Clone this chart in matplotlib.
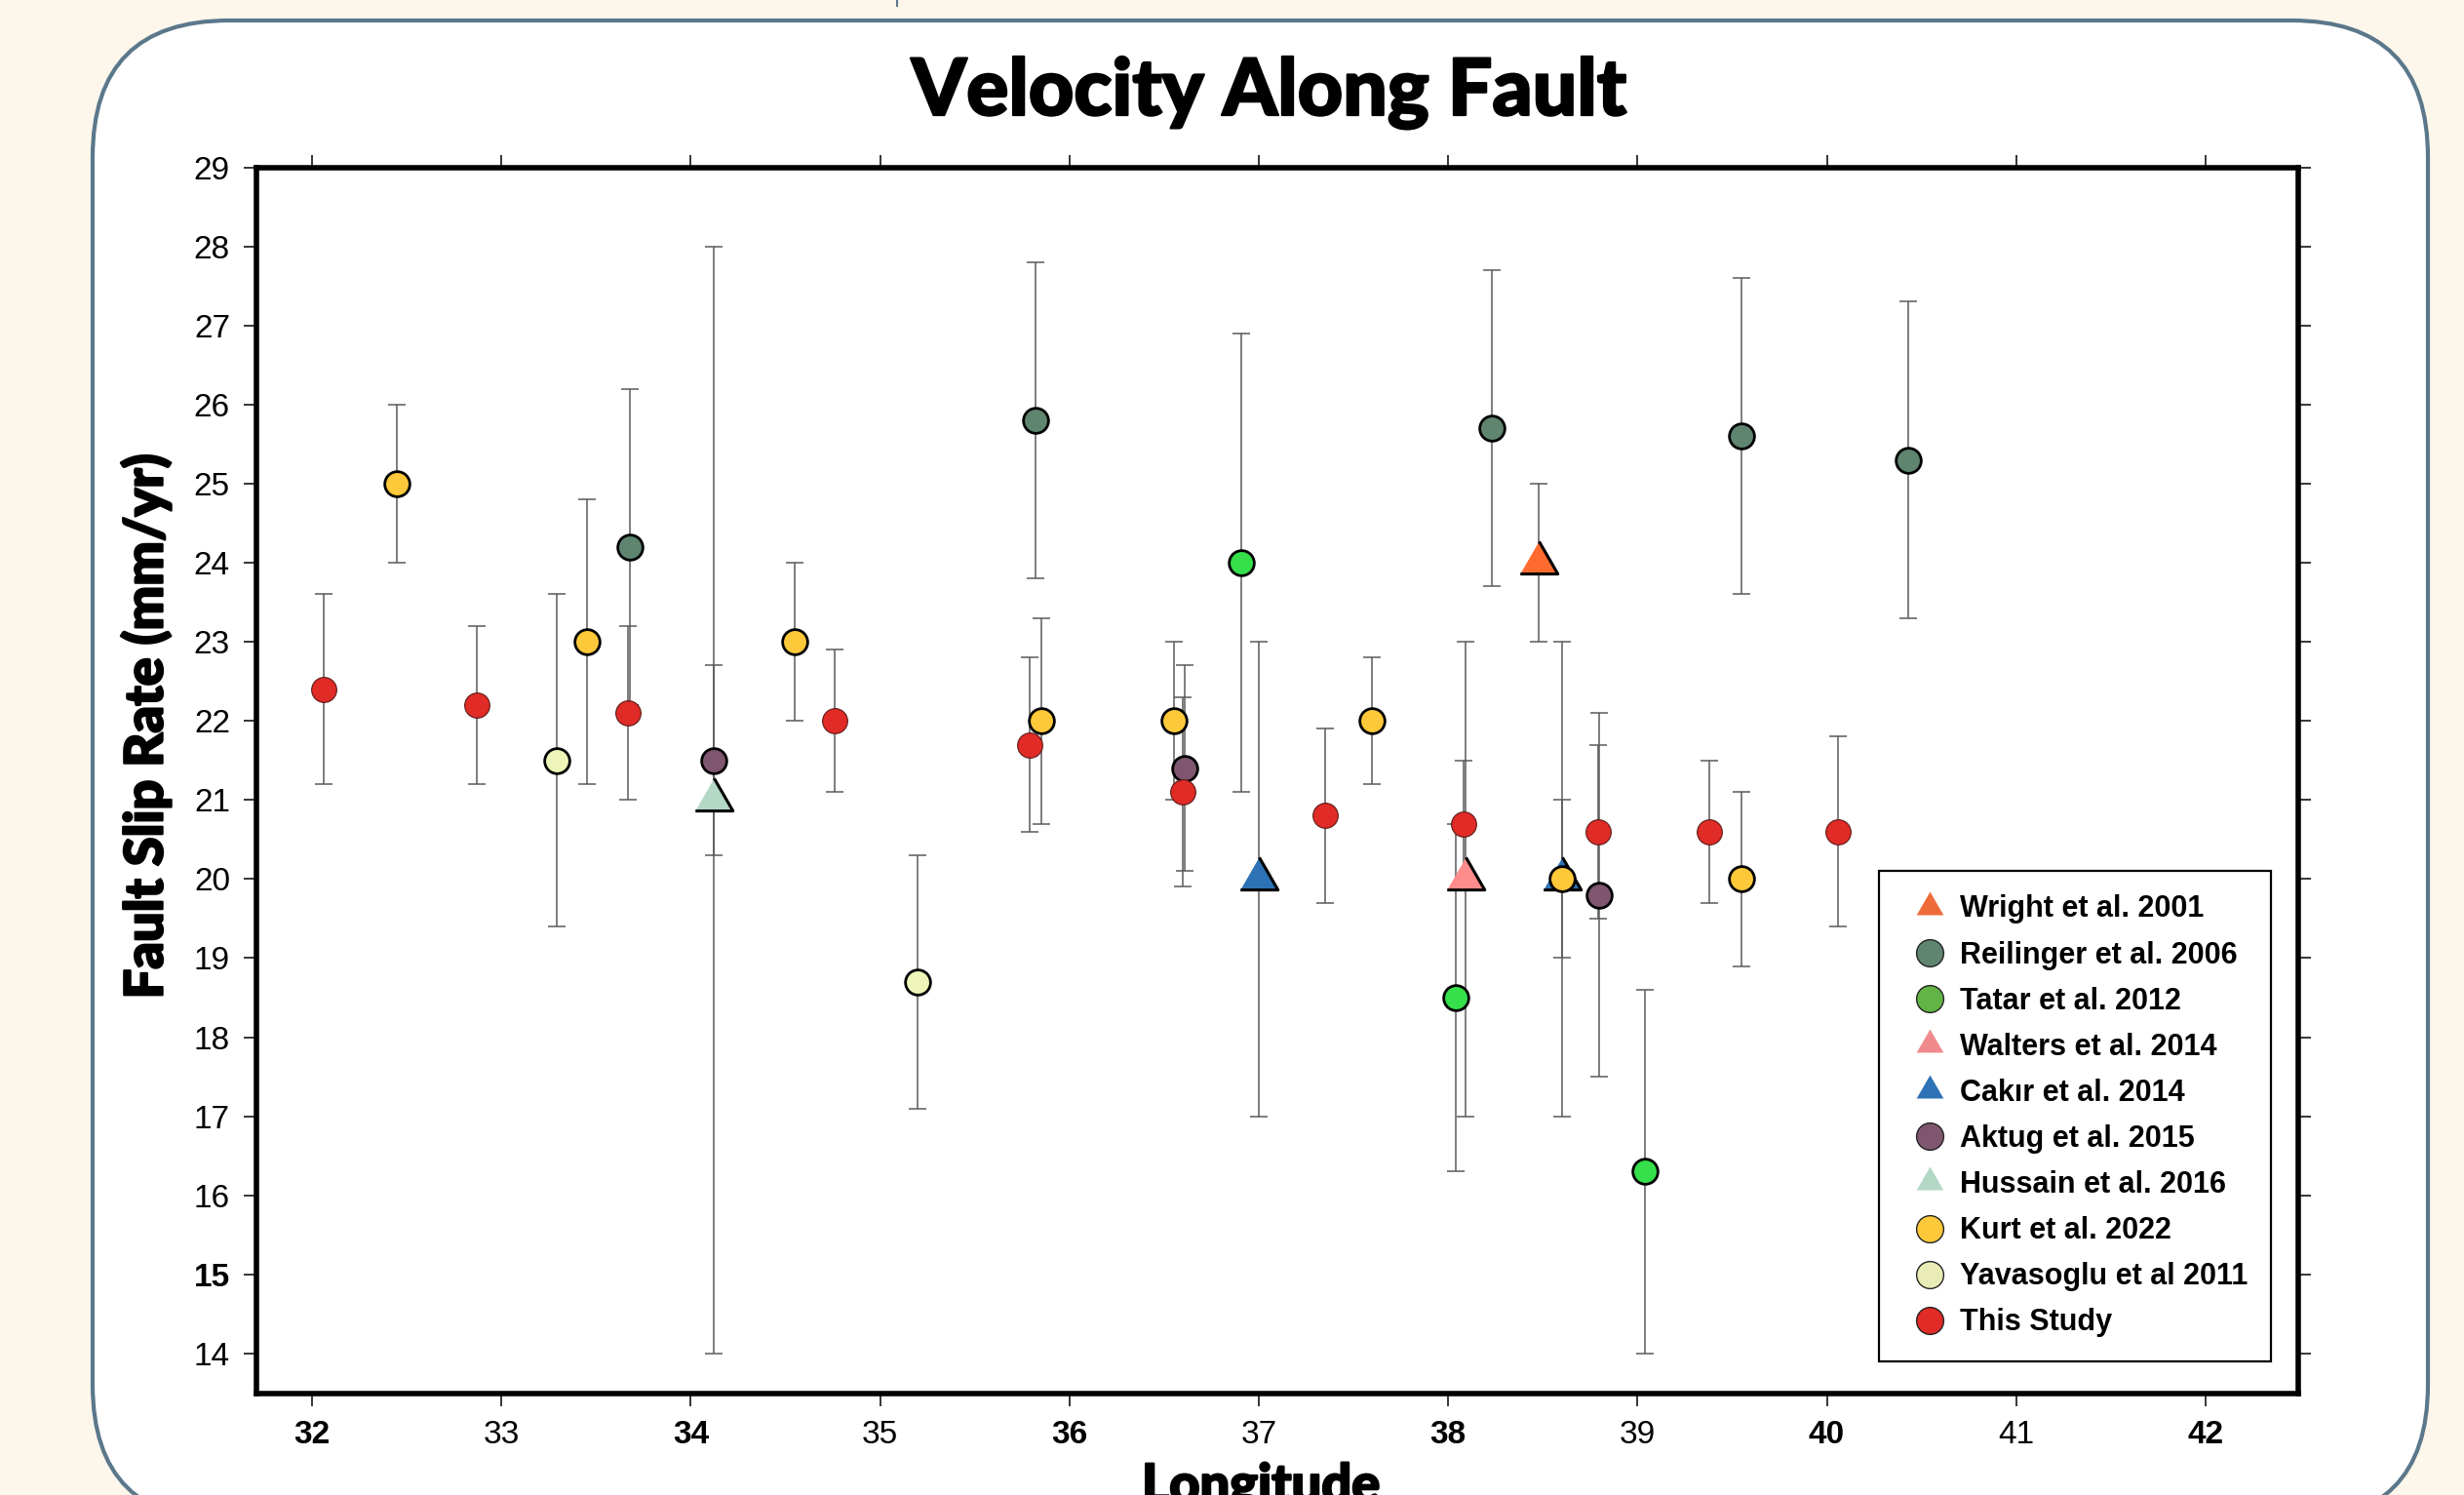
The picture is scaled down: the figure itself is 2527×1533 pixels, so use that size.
import matplotlib
matplotlib.use("Agg")
import matplotlib.pyplot as plt
import matplotlib.patheffects as pe
from matplotlib.patches import FancyBboxPatch
from matplotlib.lines import Line2D

# --- data (longitude, slip rate, lower / upper error bound) ---
wright_lon = [38.48]
wright_rate = [24.0]
wright_low = [23.0]
wright_high = [25.0]

reilinger_lon = [33.68, 35.82, 38.23, 39.55, 40.43]
reilinger_rate = [24.2, 25.8, 25.7, 25.6, 25.3]
reilinger_low = [22.2, 23.8, 23.7, 23.6, 23.3]
reilinger_high = [26.2, 27.8, 27.7, 27.6, 27.3]

tatar_lon = [36.91, 38.04, 39.04]
tatar_rate = [24.0, 18.5, 16.3]
tatar_low = [21.1, 16.3, 14.0]
tatar_high = [26.9, 20.7, 18.6]

walters_lon = [38.09]
walters_rate = [20.0]
walters_low = [17.0]
walters_high = [23.0]

cakir_lon = [37.0, 38.6]
cakir_rate = [20.0, 20.0]
cakir_low = [17.0, 17.0]
cakir_high = [23.0, 23.0]

aktug_lon = [34.12, 36.61, 38.80]
aktug_rate = [21.5, 21.4, 19.8]
aktug_low = [20.3, 20.1, 17.5]
aktug_high = [22.7, 22.7, 22.1]

hussain_lon = [34.12]
hussain_rate = [21.0]
hussain_low = [14.0]
hussain_high = [28.0]

kurt_lon = [32.45, 33.45, 34.55, 35.85, 36.55, 37.60, 38.60, 39.55]
kurt_rate = [25.0, 23.0, 23.0, 22.0, 22.0, 22.0, 20.0, 20.0]
kurt_low = [24.0, 21.2, 22.0, 20.7, 21.0, 21.2, 19.0, 18.9]
kurt_high = [26.0, 24.8, 24.0, 23.3, 23.0, 22.8, 21.0, 21.1]

yavas_lon = [33.29, 35.20]
yavas_rate = [21.5, 18.7]
yavas_low = [19.4, 17.1]
yavas_high = [23.6, 20.3]

study_lon = [32.06, 32.87, 33.67, 34.76, 35.79, 36.60, 37.35, 38.08, 38.79, 39.38, 40.06]
study_rate = [22.4, 22.2, 22.1, 22.0, 21.7, 21.1, 20.8, 20.7, 20.6, 20.6, 20.6]
study_low = [21.2, 21.2, 21.0, 21.1, 20.6, 19.9, 19.7, 19.9, 19.5, 19.7, 19.4]
study_high = [23.6, 23.2, 23.2, 22.9, 22.8, 22.3, 21.9, 21.5, 21.7, 21.5, 21.8]

x_ticks = [32, 33, 34, 35, 36, 37, 38, 39, 40, 41, 42]
x_tick_labels = ["32", "33", "34", "35", "36", "37", "38", "39", "40", "41", "42"]
y_ticks = list(range(14, 30))
y_tick_labels = [str(v) for v in y_ticks]
bold_x_labels = ["32", "34", "36", "38", "40", "42"]
bold_y_labels = ["15"]

# equilateral triangle centred on its centroid
TRI = [(-1.0, -0.577), (1.0, -0.577), (0.0, 1.155)]

# label, x, y, lo, hi, marker, plot colour, legend colour
series = [
    ("Wright et al. 2001", wright_lon, wright_rate, wright_low, wright_high, "tri", "#FF6B2E", "#EE6C3A"),
    ("Reilinger et al. 2006", reilinger_lon, reilinger_rate, reilinger_low, reilinger_high, "o", "#5F8570", "#5F8570"),
    ("Tatar et al. 2012", tatar_lon, tatar_rate, tatar_low, tatar_high, "o", "#35E04A", "#63B446"),
    ("Walters et al. 2014", walters_lon, walters_rate, walters_low, walters_high, "tri", "#FF8C8C", "#F08A8C"),
    ("Cakır et al. 2014", cakir_lon, cakir_rate, cakir_low, cakir_high, "tri", "#2C72B4", "#2C72B4"),
    ("Aktug et al. 2015", aktug_lon, aktug_rate, aktug_low, aktug_high, "o", "#7F566F", "#7F566F"),
    ("Hussain et al. 2016", hussain_lon, hussain_rate, hussain_low, hussain_high, "tri", "#B3D8C6", "#B3D8C6"),
    ("Kurt et al. 2022", kurt_lon, kurt_rate, kurt_low, kurt_high, "o", "#FDC93A", "#FDC93A"),
    ("Yavasoglu et al 2011", yavas_lon, yavas_rate, yavas_low, yavas_high, "o", "#EEF5B8", "#E9ECB6"),
    ("This Study", study_lon, study_rate, study_low, study_high, "o", "#E02B26", "#E02B26"),
]

W, H = 2527, 1533
fig = plt.figure(figsize=(W / 100, H / 100), dpi=100, facecolor="#FDF6EB")

# background panel drawn in pixel coordinates
bg = fig.add_axes([0, 0, 1, 1], zorder=-10)
bg.set_xlim(0, W)
bg.set_ylim(H, 0)
bg.axis("off")
panel = FancyBboxPatch((95, 21), 2490 - 95, 1560 - 21,
                       boxstyle="round,pad=0,rounding_size=140",
                       fc="white", ec="#5B788B", lw=3)
bg.add_patch(panel)
bg.plot([920, 920], [0, 6], color="#5B788B", lw=1.5)

ax = fig.add_axes([263 / W, 1 - 1428.5 / H, (2357 - 263) / W, (1428.5 - 171.5) / H])
ax.set_facecolor("white")

for label, xs, ys, lo, hi, mk, col, lcol in series:
    yerr = [[y - l for y, l in zip(ys, lo)], [h - y for y, h in zip(ys, hi)]]
    ax.errorbar(xs, ys, yerr=yerr, fmt="none", ecolor="#5a5a5a", elinewidth=1.1,
                capsize=6.8, capthick=1.1, zorder=2)

for label, xs, ys, lo, hi, mk, col, lcol in series:
    if mk == "tri":
        ax.plot(xs, ys, ls="none", marker=TRI, ms=32, mfc=col, mec="black", mew=2.2, zorder=3)
    elif label == "This Study":
        ax.plot(xs, ys, ls="none", marker="o", ms=18.5, mfc=col, mec="#5a1a18", mew=0.8, zorder=4)
    else:
        ax.plot(xs, ys, ls="none", marker="o", ms=18.5, mfc=col, mec="black", mew=2.0, zorder=3)

ax.set_xlim(31.706, 42.49)
ax.set_ylim(13.5, 29.0)
ax.set_xticks(x_ticks)
ax.set_xticklabels(x_tick_labels)
ax.set_yticks(y_ticks)
ax.set_yticklabels(y_tick_labels)
ax.tick_params(direction="out", length=9.5, width=1.1, top=True, right=True,
               labeltop=False, labelright=False, pad=10, labelsize=24)
for t in ax.get_xticklabels() + ax.get_yticklabels():
    t.set_fontfamily(["Liberation Sans", "DejaVu Sans"])
for t in ax.get_xticklabels():
    if t.get_text() in bold_x_labels:
        t.set_fontweight("bold")
for t in ax.get_yticklabels():
    if t.get_text() in bold_y_labels:
        t.set_fontweight("bold")
for s in ax.spines.values():
    s.set_linewidth(4)

handles = []
for label, xs, ys, lo, hi, mk, col, lcol in series:
    if mk == "tri":
        handles.append(Line2D([], [], ls="none", marker=TRI, ms=23, mfc=lcol, mec=lcol, mew=0, label=label))
    else:
        handles.append(Line2D([], [], ls="none", marker="o", ms=20, mfc=lcol, mec="#222222", mew=1.0, label=label))

leg = ax.legend(handles=handles, loc="upper left", bbox_to_anchor=(0.7947, 0.426),
                borderaxespad=0, frameon=True, fancybox=False, framealpha=1,
                edgecolor="black", borderpad=0.8, labelspacing=0.56,
                handlelength=1.8, handletextpad=0.1, numpoints=1,
                prop={"family": ["Liberation Sans", "DejaVu Sans"], "weight": "bold", "size": 22})
leg.get_frame().set_linewidth(1.6)

heavy = [pe.withStroke(linewidth=1.6, foreground="black")]
fig.text(0.515, 1 - 118 / H, "Velocity Along Fault", ha="center", va="baseline",
         fontsize=58, fontweight="black", family=["Lato", "DejaVu Sans"], path_effects=heavy)
fig.text(150 / W, 1 - 745 / H, "Fault Slip Rate (mm/yr)", ha="center", va="center",
         rotation=90, fontsize=39, fontweight="black", family=["Lato", "DejaVu Sans"],
         path_effects=heavy)
fig.text(1293 / W, 1 - 1540 / H, "Longitude", ha="center", va="baseline",
         fontsize=39, fontweight="black", family=["Lato", "DejaVu Sans"], path_effects=heavy)

fig.savefig("out.png", dpi=100, facecolor=fig.get_facecolor())
